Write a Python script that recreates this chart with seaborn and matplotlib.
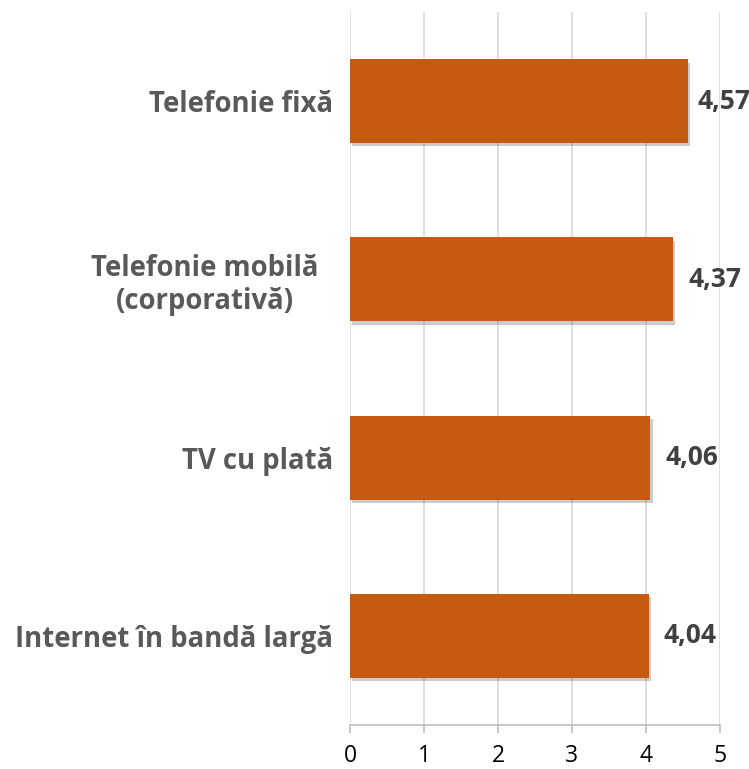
import pandas as pd
import seaborn as sns
import matplotlib.pyplot as plt
import matplotlib.patheffects as pe
from matplotlib.transforms import ScaledTranslation

categories = ["Telefonie fixă", "Telefonie mobilă\n(corporativă)", "TV cu plată", "Internet în bandă largă"]
scores = [4.57, 4.37, 4.06, 4.04]
value_labels = ["4,57", "4,37", "4,06", "4,04"]

df = pd.DataFrame({"serviciu": categories, "scor": scores})

sns.set_theme(style="white")
plt.rcParams["font.family"] = ["Open Sans", "DejaVu Sans"]

fig = plt.figure(figsize=(7.49, 7.69), dpi=100)
ax = fig.add_axes([350 / 749, 1 - 725 / 769, 370 / 749, 713 / 769])

sns.barplot(data=df, y="serviciu", x="scor", color="#C55A11", width=0.47,
            saturation=1, edgecolor="none", ax=ax)

for bar in ax.patches:
    bar.set_path_effects([pe.SimplePatchShadow(offset=(1.5, -2.5), shadow_rgbFace="black", alpha=0.2),
                          pe.Normal()])

ax.set_xlim(0, 5)
ax.set_ylim(3.5, -0.5)
ax.set_xticks(range(6))
ax.grid(axis="x", color="#D9D9D9", linewidth=1.2)
ax.set_axisbelow(True)
for side in ["top", "right", "left"]:
    ax.spines[side].set_visible(False)
ax.spines["bottom"].set_color("#BFBFBF")
ax.spines["bottom"].set_linewidth(1.2)
ax.tick_params(axis="x", bottom=True, length=6, width=1.2, color="#BFBFBF",
               labelsize=16.5, labelcolor="#000000", pad=8)
ax.tick_params(axis="y", left=False, pad=6)
for lbl in ax.get_yticklabels():
    lbl.set_fontsize(19.8)
    lbl.set_fontweight("bold")
    lbl.set_color("#595959")
    lbl.set_multialignment("center")
    if "\n" in lbl.get_text():
        # wrapped label sits a bit further left, centred like Excel
        lbl.set_transform(lbl.get_transform() + ScaledTranslation(-0.15, 0, fig.dpi_scale_trans))
ax.set_xlabel("")
ax.set_ylabel("")

# value labels, kept inside the figure like Excel does
for i, (v, txt) in enumerate(zip(scores, value_labels)):
    x = min(v + 0.2, 4.695)
    ax.text(x, i, txt, va="center", ha="left", fontsize=19, fontweight="bold",
            color="#404040", clip_on=False)

fig.savefig("out.png", dpi=100)
